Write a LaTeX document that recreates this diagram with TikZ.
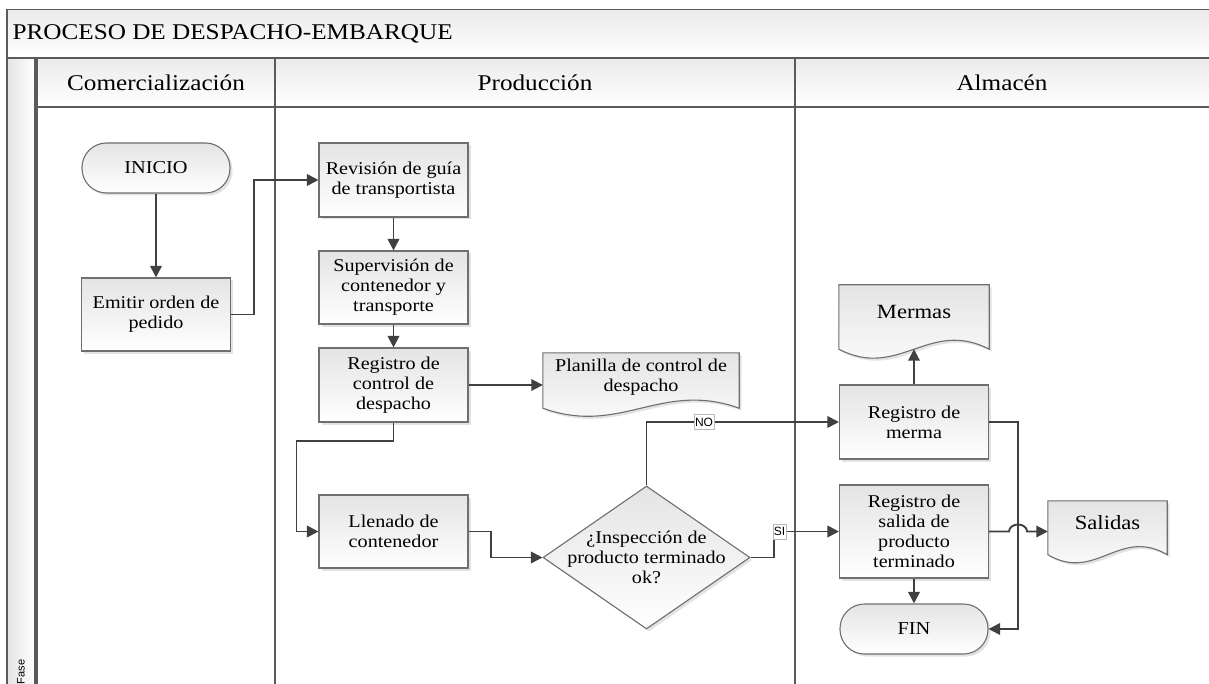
\documentclass[tikz,border=0pt]{standalone}
\usepackage{fontspec}
\setmainfont{Liberation Serif}[FakeStretch=1.12]
\newfontfamily\lblfamily{Liberation Sans}
\usetikzlibrary{arrows.meta,shapes.geometric,shadows,calc}
\pgfdeclarelayer{pool}
\pgfdeclarelayer{paper}
\pgfsetlayers{pool,paper,main}

\definecolor{boxedge}{HTML}{6F6F6F}
\definecolor{wire}{HTML}{404040}
\definecolor{shadebot}{HTML}{E4E4E4}
\definecolor{poolline}{HTML}{5A5A5A}
\definecolor{barbot}{HTML}{EBEBEB}

\newcommand\procfont{\fontsize{18}{20}\selectfont}
\newcommand\headfont{\fontsize{22.5}{26}\selectfont}
\newcommand\termfont{\fontsize{18.2}{21}\selectfont}
\newcommand\docfont{\fontsize{20.2}{23}\selectfont}

% the picture runs with y pointing down, so shadings are given upside down
\tikzset{
  softshadow/.style={drop shadow={shadow xshift=2.5pt, shadow yshift=-2.5pt, opacity=0.22}},
  shaded/.style={top color=shadebot, bottom color=white, draw=boxedge, line width=1.1pt, softshadow},
  procbox/.style={shaded, rectangle, minimum width=149pt, inner sep=2pt, align=center, font=\procfont},
  termbox/.style={shaded, rectangle, rounded corners=24.5pt, minimum width=148pt, minimum height=50pt, inner sep=0pt, font=\termfont},
  decbox/.style={shaded, diamond, minimum width=207pt, minimum height=143pt, inner sep=0pt},
  docnode/.style={rectangle, minimum width=#1, inner sep=0pt, align=center},
  docshape/.style={shaded},
  flow/.style={draw=wire, line width=1.9pt, ->},
  flowlabel/.style={font=\lblfamily\fontsize{12}{12}\selectfont, fill=white, draw=gray!55, line width=0.5pt, inner xsep=1pt, inner ysep=3pt, text height=8.6pt, text depth=0pt},
  poolrule/.style={draw=poolline, line width=1.4pt},
  barfill/.style={top color=barbot, bottom color=white},
}

% wavy-bottomed document outline behind a named node:
% #1 node, #2 extra side length below the node, #3/#4 control offsets of the wave
\newcommand\paperfrom[4]{%
  \begin{pgfonlayer}{paper}
    \path[docshape] (#1.north west) -- (#1.north east) -- ([yshift=-#2pt]#1.south east)
      .. controls +(-#3,-#4) and +(#3,#4) .. ([yshift=-#2pt]#1.south west) -- cycle;
  \end{pgfonlayer}}

\begin{document}
\begin{tikzpicture}[x=1pt, y=-1pt, >={Triangle[length=11.5pt,width=11.5pt]}]
\useasboundingbox (0,0) rectangle (1209,684);

% pool, lanes and headers
\begin{pgfonlayer}{pool}
  \fill[white] (0,0) rectangle (1209,684);
  \path[barfill] (7,9.5) rectangle (1209,58);
  \path[barfill] (37,58) rectangle (1209,107);
  \path[left color=gray!22, right color=white] (7,58) rectangle (35,684);
  \draw[poolrule] (7,9.5) -- (1209,9.5);
  \draw[poolrule] (7,9.5) -- (7,684);
  \draw[poolrule] (7,58) -- (1209,58);
  \draw[poolrule] (35,58) -- (35,684);
  \draw[poolrule] (37,58) -- (37,684);
  \draw[poolrule] (37,107) -- (1209,107);
  \draw[poolrule] (275,58) -- (275,684);
  \draw[poolrule] (795,58) -- (795,684);
\end{pgfonlayer}

\node[font=\headfont, anchor=west] (pooltitle) at (9,34) {PROCESO DE DESPACHO-EMBARQUE};
\node[font=\headfont] (lanecom) at (156,83) {Comercialización};
\node[font=\headfont] (laneprod) at (535,83) {Producción};
\node[font=\headfont] (lanealm) at (1002,83) {Almacén};
\node[font=\lblfamily\fontsize{11}{11}\selectfont, rotate=90] (phase) at (21,672) {Fase};

% steps
\node[termbox] (inicio) at (156,168) {INICIO};
\node[procbox, minimum height=73pt] (emitir) at (156,314.5) {Emitir orden de\\pedido};
\node[procbox, minimum height=74pt] (revision) at (393.5,180) {Revisión de guía\\de transportista};
\node[procbox, minimum height=73pt] (superv) at (393.5,287.5) {Supervisión de\\contenedor y\\transporte};
\node[procbox, minimum height=74pt] (regctrl) at (393.5,385) {Registro de\\control de\\despacho};
\node[procbox, minimum height=73pt] (llenado) at (393.5,531.5) {Llenado de\\contenedor};
\node[decbox] (insp) at (646.5,557.5) {};
\node[align=center, font=\procfont] (insptext) at (insp.center) {¿Inspección de\\producto terminado\\ok?};
\node[procbox, minimum height=74pt] (regmerma) at (914,422) {Registro de\\merma};
\node[procbox, minimum height=93pt] (regsal) at (914,531.5) {Registro de\\salida de\\producto\\terminado};
\node[termbox] (fin) at (914,629) {FIN};

% documents
\node[docnode=196pt, minimum height=48pt, font=\procfont] (planilla) at (641,377) {Planilla de control de\\despacho};
\paperfrom{planilla}{7}{78}{28}
\node[docnode=150pt, minimum height=54pt, font=\docfont] (mermas) at (914,312) {Mermas};
\paperfrom{mermas}{10}{60}{31}
\node[docnode=119pt, minimum height=44pt, font=\docfont] (salidas) at (1107.5,523) {Salidas};
\paperfrom{salidas}{9.5}{48}{28}

% flow
\draw[flow] (inicio) -- (emitir);
\draw[flow] (emitir.east) -- ++(23,0) |- (revision.west);
\draw[flow] (revision) -- (superv);
\draw[flow] (superv) -- (regctrl);
\draw[flow] (regctrl.east) -- (regctrl.east -| planilla.west);
\draw[flow] (regctrl.south) -- ++(0,18) -| ([xshift=-22pt]llenado.west) -- (llenado.west);
\draw[flow] (llenado.east) -- ++(22,0) |- (insp.west);
\draw[flow] (insp.north) |- (regmerma.west);
\draw[flow] (insp.east) -- ++(23,0) |- (regsal.west);
\draw[flow] (regmerma.north) -- ([yshift=-10pt]mermas.south);
\draw[flow] (regmerma.east) -- ++(29,0) |- (fin.east);
\draw[flow] (regsal.south) -- (fin.north);
\draw[flow] (regsal.east) -- ++(20,0) arc[start angle=180, end angle=0, x radius=9pt, y radius=7pt] -- (regsal.east -| salidas.west);

\node[flowlabel] (nolabel) at (704,422) {NO};
\node[flowlabel] (silabel) at (779.5,531.5) {SI};
\end{tikzpicture}
\end{document}
